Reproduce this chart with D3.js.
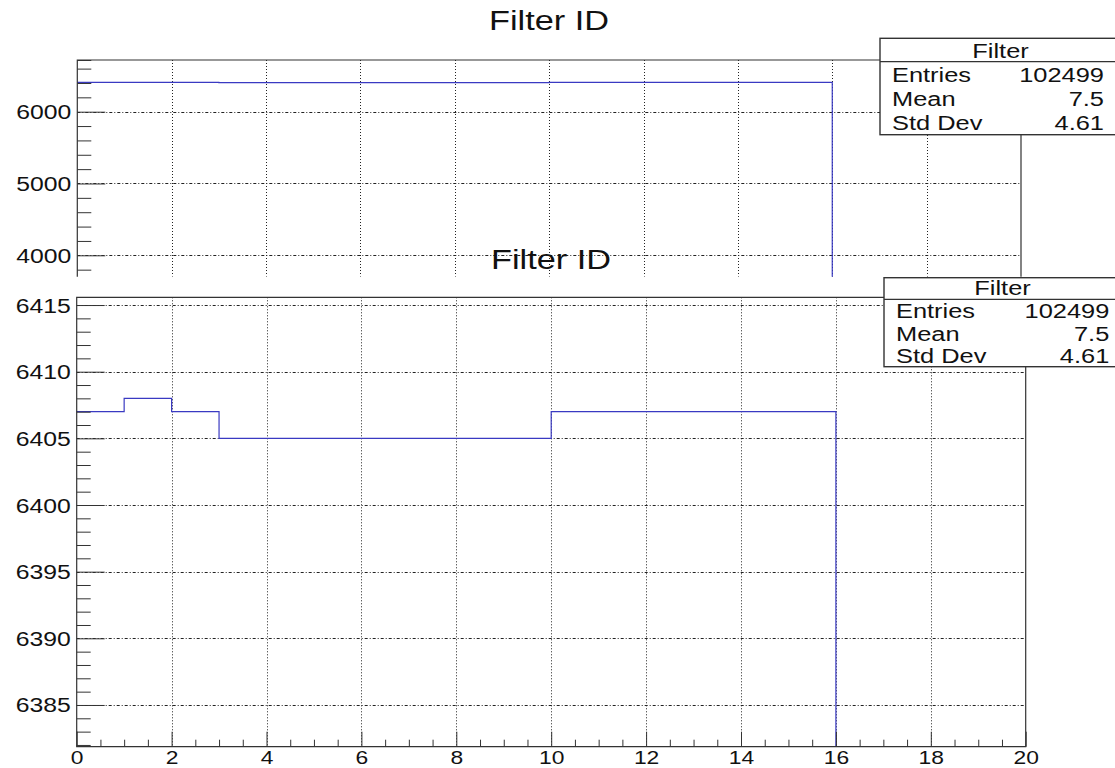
<!DOCTYPE html>
<html>
<head>
<meta charset="utf-8">
<script src="https://cdn.jsdelivr.net/npm/d3@7"></script>
<style>
  body { margin: 0; background: #fff; }
  svg { display: block; font-family: "Liberation Sans", Arial, sans-serif; }
</style>
</head>
<body>
<div id="chart"></div>
<script>
// histogram bins (filter id 0..19) and counts
const binLow = d3.range(0, 20)
const counts = [6407, 6408, 6407, 6405, 6405, 6405, 6405, 6405, 6405, 6405,
                6407, 6407, 6407, 6407, 6407, 6407, 0, 0, 0, 0]
const title = 'Filter ID'
const statName = 'Filter'
const statLabels = ['Entries', 'Mean', 'Std Dev']
const statValues = ['102499', '7.5', '4.61']

const xMajor = d3.range(0, 21, 2)
const xMinor = d3.range(0, 20.01, 0.5).filter(v => v % 2 !== 0)
const topMajor = [4000, 5000, 6000]
const topMinor = d3.range(3200, 6801, 200).filter(v => v % 1000 !== 0)
const lowMajor = [6385, 6390, 6395, 6400, 6405, 6410, 6415]
const lowMinor = d3.range(6382, 6416, 1).filter(v => v % 5 !== 0)

const W = 1115, H = 768
const SX = 1.27 // the picture is stretched sideways
const lineColor = '#3a3ac2'
const frameColor = '#333'
const gridColor = '#222'

const svg = d3.select('#chart').append('svg')
  .attr('width', W).attr('height', H)

function label(g, x, y, text, size, anchor) {
  return g.append('text')
    .attr('transform', `translate(${x},${y}) scale(${SX},1)`)
    .attr('font-size', size)
    .attr('text-anchor', anchor)
    .attr('fill', '#111')
    .text(text)
}

function panel(opts) {
  const { id, x, y, clipBottom, showX } = opts
  const g = svg.append('g')
  const [x0, x1] = x.range()
  const [, yTop] = y.range()
  const bottom = clipBottom

  g.append('clipPath').attr('id', id)
    .append('rect')
    .attr('x', x0 - 80).attr('y', yTop - 2)
    .attr('width', x1 - x0 + 90).attr('height', bottom - yTop + 2)

  const body = g.append('g').attr('clip-path', `url(#${id})`)

  // grid
  body.append('g').selectAll('line')
    .data(xMajor.filter(v => v > 0 && v < 20))
    .join('line')
    .attr('x1', d => Math.round(x(d)) + 0.5).attr('x2', d => Math.round(x(d)) + 0.5)
    .attr('y1', yTop).attr('y2', bottom)
    .attr('stroke', gridColor).attr('stroke-dasharray', '1,2')
  body.append('g').selectAll('line')
    .data(opts.yMajor)
    .join('line')
    .attr('x1', x0).attr('x2', x1)
    .attr('y1', d => Math.round(y(d)) + 0.5).attr('y2', d => Math.round(y(d)) + 0.5)
    .attr('stroke', gridColor).attr('stroke-dasharray', '3,2,1,2')

  // histogram
  const pts = binLow.map((b, i) => [b, counts[i]])
  pts.push([20, counts[counts.length - 1]])
  body.append('path')
    .attr('d', d3.line().x(d => x(d[0])).y(d => y(d[1])).curve(d3.curveStepAfter)(pts))
    .attr('fill', 'none')
    .attr('stroke', lineColor)
    .attr('stroke-width', 1.2)

  // y axis (ticks inside the frame)
  const yAxis = body.append('g').attr('transform', `translate(${x0},0)`)
  yAxis.call(d3.axisLeft(y).tickValues(opts.yMinor).tickSizeInner(-14).tickSizeOuter(0).tickFormat(''))
  yAxis.select('.domain').remove()
  const yAxisMajor = g.append('g').attr('transform', `translate(${x0},0)`)
  yAxisMajor.call(d3.axisLeft(y).tickValues(opts.yMajor).tickSizeInner(-28).tickSizeOuter(0).tickFormat(d3.format('d')))
  yAxisMajor.select('.domain').remove()
  yAxisMajor.selectAll('text')
    .attr('x', 0).attr('dy', '0.36em')
    .attr('transform', `translate(-6,0) scale(${SX},1)`)
    .attr('font-size', 19.5).attr('fill', '#111')
    .attr('font-family', null)
  svg.selectAll('.tick line').attr('stroke', frameColor)

  // frame
  g.append('path')
    .attr('d', showX
      ? `M${x0},${bottom}V${yTop}H${x1}V${bottom}Z`
      : `M${x0},${bottom}V${yTop}H${x1}V${bottom}`)
    .attr('fill', 'none').attr('stroke', frameColor).attr('stroke-width', 1.2)

  if (showX) {
    const xa = g.append('g').attr('transform', `translate(0,${bottom})`)
    xa.call(d3.axisBottom(x).tickValues(xMinor).tickSizeInner(-7).tickSizeOuter(0).tickFormat(''))
    xa.select('.domain').remove()
    const xb = g.append('g').attr('transform', `translate(0,${bottom})`)
    xb.call(d3.axisBottom(x).tickValues(xMajor).tickSizeInner(-15).tickSizeOuter(0).tickPadding(4.3))
    xb.select('.domain').remove()
    xb.selectAll('text')
      .attr('transform', `scale(${SX},1)`)
      .attr('font-size', 18).attr('fill', '#111')
      .attr('font-family', null)
    g.selectAll('.tick line').attr('stroke', frameColor)
  }
  return g
}

function statBox(g, left, top, headerY, boxBottom, textLeft, textRight, baselines) {
  g.append('rect')
    .attr('x', left).attr('y', top)
    .attr('width', W + 10 - left).attr('height', boxBottom - top)
    .attr('fill', '#fff').attr('stroke', frameColor).attr('stroke-width', 1.4)
  g.append('line')
    .attr('x1', left).attr('x2', W + 10)
    .attr('y1', headerY).attr('y2', headerY)
    .attr('stroke', frameColor).attr('stroke-width', 1.2)
  label(g, (left + W + 6) / 2, baselines[0], statName, 20, 'middle')
  statLabels.forEach((s, i) => {
    label(g, textLeft, baselines[i + 1], s, 20, 'start')
    label(g, textRight, baselines[i + 1], statValues[i], 20, 'end')
  })
}

// upper canvas
const xTop = d3.scaleLinear().domain([0, 20]).range([77.3, 1021])
const yTop = d3.scaleLinear().domain([3000, 6720]).range([327.1, 60]).clamp(true)
const gTop = panel({ id: 'clipTop', x: xTop, y: yTop, clipBottom: 276.7,
  yMajor: topMajor, yMinor: topMinor, showX: false })
label(gTop, 549, 29.5, title, 27, 'middle')
statBox(gTop, 880, 38.3, 61.7, 134.7, 892, 1104, [57.7, 81.7, 106, 130])

// lower canvas (drawn over the upper one)
const xLow = d3.scaleLinear().domain([0, 20]).range([76.7, 1025.7])
const yLow = d3.scaleLinear().domain([6381.87, 6415.58]).range([746.7, 297.3]).clamp(true)
const gLow = panel({ id: 'clipLow', x: xLow, y: yLow, clipBottom: 746.7,
  yMajor: lowMajor, yMinor: lowMinor, showX: true })
label(gLow, 551, 269, title, 27, 'middle')
statBox(gLow, 884, 277.7, 299.3, 366.7, 896, 1109.3, [295, 318.3, 340.7, 363.3])
</script>
</body>
</html>
